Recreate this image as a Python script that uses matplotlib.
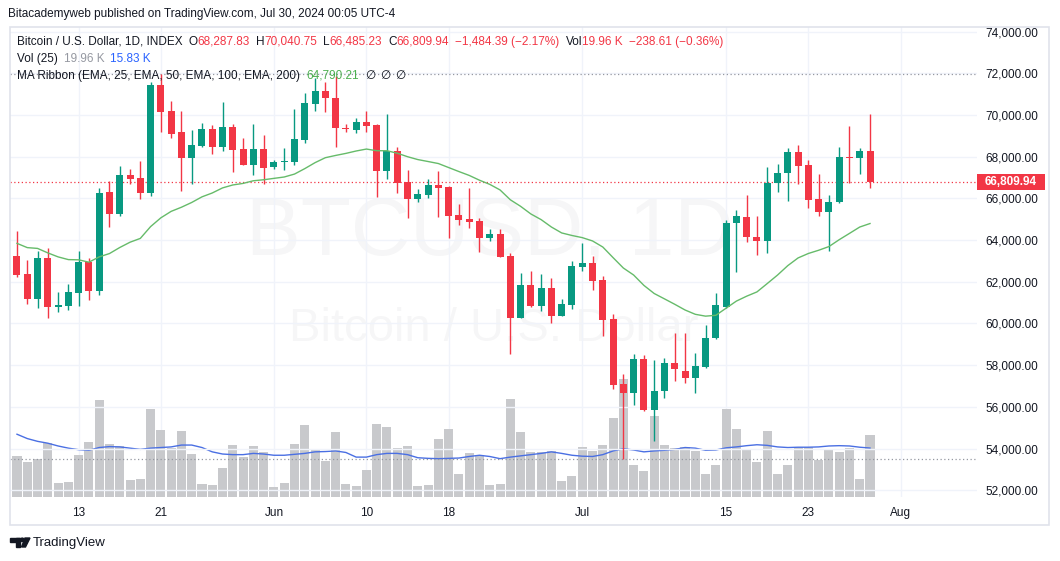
import numpy as np
import pandas as pd
import matplotlib.pyplot as plt
from matplotlib.patches import Rectangle, Polygon, Ellipse
from matplotlib.transforms import blended_transform_factory

# daily BTC/USD candles
dates = pd.date_range("2024-05-07", "2024-07-29", freq="D")
opens = [63238, 62374, 61190, 63142, 60806, 60825, 61477, 62950, 61573, 66307,
         65266, 67122, 66979, 66259, 71439, 70192, 69170, 67952, 68530, 69314,
         68465, 69424, 68369, 67602, 68369, 67520, 67750, 67760, 68801, 70542,
         71151, 70801, 69400, 69281, 69650, 69520, 67329, 68273, 66801, 65986,
         66163, 66657, 66561, 65201, 65012, 64916, 64115, 64293, 63238, 60278,
         61847, 60854, 61717, 60374, 60887, 62726, 62887, 62087, 60216, 57099,
         56682, 58298, 55852, 56763, 58092, 57738, 57372, 57914, 59291, 60806,
         64806, 65094, 64134, 63971, 66724, 67204, 68211, 67602, 65955, 65362,
         65813, 68000, 67923, 68287.83]
highs = [64451, 63046, 63477, 63607, 61511, 61880, 63477, 63142, 66499, 66835,
         67568, 67396, 67794, 71568, 71950, 70671, 70192, 69281, 69616, 69506,
         70609, 69554, 68882, 69568, 69041, 67842, 68417, 70273, 71070, 71760,
         71597, 71870, 69568, 69870, 70192, 69554, 70034, 68465, 67362, 66451,
         66916, 67314, 66595, 65732, 66485, 65046, 64519, 64519, 63367, 62408,
         62518, 62374, 62183, 61175, 62998, 63875, 63238, 62278, 60456, 57578,
         58538, 58490, 58250, 58332, 59530, 59559, 58572, 59928, 61449, 64964,
         65429, 66163, 65156, 67492, 67636, 68403, 68561, 67842, 67170, 66163,
         68451, 69472, 68403, 70040.75]
lows = [62250, 60950, 60744, 60250, 60537, 60662, 60825, 61142, 61367, 64643,
        65170, 66676, 65957, 66130, 69199, 68911, 66369, 66705, 68480, 68130,
        68273, 67281, 67590, 67137, 66676, 67425, 67348, 67602, 68643, 70206,
        70158, 68450, 69199, 69151, 69199, 66082, 66916, 66274, 65075, 65842,
        66034, 65123, 64115, 64724, 64595, 63415, 63971, 63172, 58523, 60250,
        60778, 60600, 60010, 60350, 60695, 62533, 61607, 59415, 56845, 53500,
        56092, 55800, 54380, 56413, 57258, 57162, 56653, 57880, 59250, 60730,
        62485, 63923, 63286, 63396, 66321, 65890, 66691, 65525, 65170, 63492,
        65765, 66724, 67156, 66485.23]
closes = [62327, 61190, 63142, 60806, 60900, 61496, 62935, 61573, 66259, 65266,
          67122, 66945, 66273, 71439, 70129, 69089, 67952, 68547, 69314, 68480,
          69424, 68336, 67616, 68369, 67472, 67760, 67810, 68849, 70561, 71151,
          70801, 69362, 69340, 69650, 69487, 67329, 68273, 66753, 65986, 66211,
          66643, 66513, 65170, 64979, 64883, 64115, 64279, 63204, 60278, 61847,
          60854, 61717, 60374, 60935, 62758, 62887, 62053, 60168, 57051, 56682,
          58298, 55852, 56778, 58092, 57804, 57372, 57948, 59291, 60888, 64835,
          65156, 64134, 63971, 66724, 67204, 68211, 67568, 65923, 65362, 65813,
          67971, 67950, 68294.33, 66809.94]
# volume in thousands
volumes = [13.2, 11.3, 12.2, 17.6, 4.4, 4.8, 13.5, 17.7, 31.3, 17.0,
           16.5, 5.4, 5.7, 28.4, 21.6, 16.0, 21.3, 13.8, 4.1, 3.8,
           9.3, 16.7, 12.9, 16.4, 14.6, 3.1, 4.4, 17.0, 23.2, 15.1,
           11.6, 20.9, 4.1, 3.5, 8.7, 23.5, 22.5, 15.8, 16.4, 3.6,
           3.8, 18.7, 21.9, 7.3, 14.1, 13.7, 3.8, 4.1, 31.6, 21.0,
           14.6, 14.6, 14.8, 5.1, 6.7, 16.3, 14.8, 16.7, 25.5, 38.1,
           10.3, 8.3, 26.1, 16.7, 16.0, 16.2, 14.8, 7.3, 10.3, 28.4,
           21.9, 15.1, 11.3, 21.3, 7.3, 10.3, 16.2, 16.2, 11.9, 15.4,
           14.6, 15.8, 5.7, 19.96]
# Vol (25) moving average
vol_ma = [20.3, 18.9, 18.0, 17.4, 16.5, 15.8, 15.3, 15.1, 16.0, 16.3,
          16.2, 15.8, 15.4, 15.8, 16.0, 16.2, 16.8, 16.8, 16.0, 14.6,
          13.9, 13.7, 13.7, 14.1, 13.9, 13.5, 13.5, 13.8, 14.1, 14.6,
          14.7, 14.9, 14.4, 12.9, 12.9, 13.7, 14.1, 14.1, 13.7, 12.7,
          12.5, 12.4, 12.5, 12.6, 13.1, 13.5, 13.1, 12.4, 12.9, 13.3,
          13.7, 14.1, 14.6, 14.1, 13.5, 13.2, 13.1, 13.7, 14.9, 15.6,
          15.2, 14.6, 14.9, 15.1, 15.4, 16.0, 15.8, 15.1, 15.2, 15.9,
          16.2, 16.6, 16.9, 16.7, 16.2, 16.0, 16.1, 16.1, 16.2, 16.5,
          16.6, 16.5, 16.1, 15.83]
ema_seed = 63970  # EMA 25 value on the day before the first candle

tick_dates = ["2024-05-13", "2024-05-21", "2024-06-01", "2024-06-10", "2024-06-18",
              "2024-07-01", "2024-07-15", "2024-07-23", "2024-08-01"]
tick_labels = ["13", "21", "Jun", "10", "18", "Jul", "15", "23", "Aug"]
price_ticks = list(range(52000, 74001, 2000))

UP, DOWN = "#089981", "#f23645"
DARK = "#131722"
GRID = "#f0f3fa"

plt.rcParams['font.family'] = ['Liberation Sans', 'DejaVu Sans']

W, H = 1060, 561
fig = plt.figure(figsize=(W / 100, H / 100), dpi=100)
fig.patch.set_facecolor("white")

pl, pr, pt, pb = 10, 977, 27, 497
ax_vol = fig.add_axes([pl / W, 1 - pb / H, (pr - pl) / W, (pb - pt) / H])
ax = ax_vol.twinx()

n = len(dates)
xs = np.arange(n)
o = np.array(opens); h = np.array(highs); l = np.array(lows); c = np.array(closes)

# volume pane (underneath)
ax_vol.bar(xs, volumes, width=0.88, color="#c8c9cc", linewidth=0, zorder=2)
ax_vol.plot(xs, vol_ma, color="#4a6fe3", lw=1, zorder=3)
ax_vol.set_ylim(0, 152)
ax_vol.set_yticks([])

# watermark
ax_vol.text(0.496, 0.515, "BTCUSD, 1D", transform=ax_vol.transAxes, ha="center",
            va="baseline", fontsize=59, color=DARK, alpha=0.035, zorder=0)
ax_vol.text(0.5, 0.332, "Bitcoin / U.S. Dollar", transform=ax_vol.transAxes, ha="center",
            va="baseline", fontsize=34, color=DARK, alpha=0.035, zorder=0)

# x axis
start = dates[0]
tick_pos = [(pd.Timestamp(d) - start).days for d in tick_dates]
ax_vol.set_xticks(tick_pos)
ax_vol.set_xticklabels(tick_labels)
ax_vol.tick_params(axis="x", length=0, pad=7, labelsize=8.5, labelcolor=DARK)
ax_vol.grid(axis="x", color=GRID, lw=1, zorder=0)
ax_vol.set_axisbelow(True)
ax_vol.set_xlim(-0.68, 93.41)

# candles
cols = [UP if cc >= oo else DOWN for oo, cc in zip(o, c)]
ax.vlines(xs, l, h, colors=cols, lw=1, zorder=4)
ax.bar(xs, np.maximum(np.abs(c - o), 45), bottom=np.minimum(o, c), width=0.68,
       color=cols, linewidth=0, zorder=5)

ema = pd.Series([ema_seed] + closes).ewm(span=25, adjust=False).mean().iloc[1:].values
ax.plot(xs, ema, color="#66bb6a", lw=1, zorder=6)

ax.axhline(max(highs), color="#9598a1", ls=(0, (1, 2)), lw=0.9, zorder=3)
ax.axhline(min(lows), color="#9598a1", ls=(0, (1, 2)), lw=0.9, zorder=3)
ax.axhline(closes[-1], color=DOWN, ls=(0, (1, 2)), lw=0.9, zorder=3)

ax.set_ylim(51679, 74220)
ax.set_yticks(price_ticks)
ax.set_yticklabels([f"{v:,.2f}" for v in price_ticks])
ax.tick_params(axis="y", length=0, pad=6, labelsize=8.5, labelcolor=DARK)
ax.grid(axis="y", color=GRID, lw=1, zorder=0)

for a in (ax, ax_vol):
    for s in a.spines.values():
        s.set_visible(False)

# last price label
ppx = (74220 - 51679) / (pb - pt)
bt = blended_transform_factory(fig.transFigure, ax.transData)
ax.add_patch(Rectangle((977 / W, closes[-1] - 8 * ppx), 68 / W, 16 * ppx, transform=bt,
                       facecolor=DOWN, edgecolor="none", clip_on=False, zorder=10))
ax.text(1011 / W, closes[-1], f"{closes[-1]:,.2f}", transform=bt, ha="center", va="center",
        color="white", fontsize=8.5, fontweight="bold", clip_on=False, zorder=11)

# outer frame
fig.add_artist(Rectangle((10 / W, 1 - 525 / H), 1039 / W, 498 / H, transform=fig.transFigure,
                         fill=False, edgecolor="#e0e3eb", lw=1.2))

# header
fig.text(8 / W, 1 - 14 / H, "Bitacademyweb published on TradingView.com, Jul 30, 2024 00:05 UTC-4",
         fontsize=8.5, color=DARK, va="center", ha="left")

renderer = fig.canvas.get_renderer()


def row(y, parts, x0=17):
    x = x0
    for s, col, gap in parts:
        t = fig.text(x / W, 1 - y / H, s, fontsize=8.5, color=col, va="center", ha="left")
        x += t.get_window_extent(renderer=renderer).width + gap


chg = closes[-1] - closes[-2]
row(42, [("Bitcoin / U.S. Dollar, 1D, INDEX", DARK, 6),
         ("O", DARK, 0), (f"{opens[-1]:,.2f}", DOWN, 6),
         ("H", DARK, 0), (f"{highs[-1]:,.2f}", DOWN, 6),
         ("L", DARK, 0), (f"{lows[-1]:,.2f}", DOWN, 6),
         ("C", DARK, 0), (f"{closes[-1]:,.2f}", DOWN, 6),
         (f"\u2212{abs(chg):,.2f} (\u2212{abs(chg) / closes[-2] * 100:.2f}%)", DOWN, 6),
         ("Vol", DARK, 0), (f"{volumes[-1]:.2f} K", DOWN, 6),
         ("\u2212238.61 (\u22120.36%)", DOWN, 0)])
row(59, [("Vol (25)", DARK, 6), (f"{volumes[-1]:.2f} K", "#9598a1", 5),
         (f"{vol_ma[-1]:.2f} K", "#2962ff", 0)])
row(76, [("MA Ribbon (EMA, 25, EMA, 50, EMA, 100, EMA, 200)", DARK, 6),
         ("64,790.21", "#4caf50", 6), ("\u2205", DARK, 5), ("\u2205", DARK, 5), ("\u2205", DARK, 0)])

# TradingView logo
def P(x, y):
    return (x / W, 1 - y / H)

fig.add_artist(Rectangle(P(10, 541.5), 10 / W, 3.5 / H, transform=fig.transFigure, color=DARK))
fig.add_artist(Rectangle(P(15.5, 547), 4.5 / W, 9 / H, transform=fig.transFigure, color=DARK))
fig.add_artist(Ellipse(P(22.3, 539.8), 3.4 / W, 3.4 / H, transform=fig.transFigure, color=DARK))
fig.add_artist(Polygon([P(25, 538), P(30, 538), P(25.5, 547), P(21.5, 547)],
                       closed=True, transform=fig.transFigure, color=DARK))
fig.text(33 / W, 1 - 543 / H, "TradingView", fontsize=9.5, color=DARK, va="center", ha="left")

fig.savefig("out.png", dpi=100)
